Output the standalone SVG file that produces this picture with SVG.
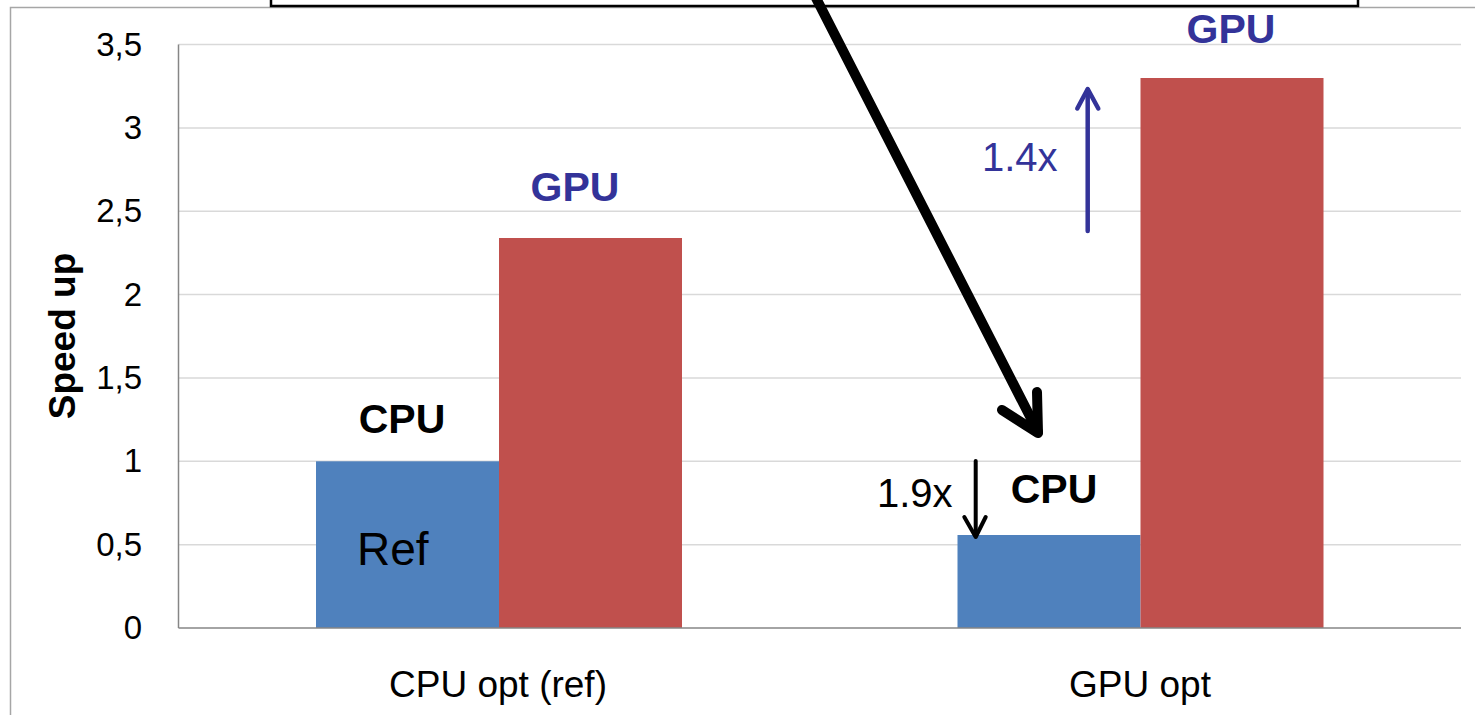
<svg xmlns="http://www.w3.org/2000/svg" width="1475" height="715" viewBox="0 0 1475 715">
<style>
.grid{stroke:#d9d9d9;stroke-width:1.5}
.axis{stroke:#868686;stroke-width:1.5}
.tick{font-family:"Liberation Sans",Arial,sans-serif;font-size:33px;fill:#000;text-anchor:end}
.cat{font-family:"Liberation Sans",Arial,sans-serif;font-size:37px;fill:#000;text-anchor:middle}
.lbl{font-family:"Liberation Sans",Arial,sans-serif;font-weight:bold;font-size:41px;text-anchor:middle}
.ann{font-family:"Liberation Sans",Arial,sans-serif;font-size:40px}
.cpu{fill:#4f81bd}
.gpu{fill:#c0504d}
</style>
<rect width="1475" height="715" fill="#fff"/>
<rect id="frame" x="10.5" y="7.5" width="1500" height="750" fill="none" stroke="#a6a6a6" stroke-width="1.5"/>
<g id="gridlines">
<line class="grid" x1="178.5" y1="44.5" x2="1461" y2="44.5"/>
<line class="grid" x1="178.5" y1="127.9" x2="1461" y2="127.9"/>
<line class="grid" x1="178.5" y1="211.2" x2="1461" y2="211.2"/>
<line class="grid" x1="178.5" y1="294.6" x2="1461" y2="294.6"/>
<line class="grid" x1="178.5" y1="378" x2="1461" y2="378"/>
<line class="grid" x1="178.5" y1="461.3" x2="1461" y2="461.3"/>
<line class="grid" x1="178.5" y1="544.7" x2="1461" y2="544.7"/>
</g>
<g id="ticks">
<text class="tick" x="142" y="55.5">3,5</text>
<text class="tick" x="142" y="138.9">3</text>
<text class="tick" x="142" y="222.2">2,5</text>
<text class="tick" x="142" y="305.6">2</text>
<text class="tick" x="142" y="389">1,5</text>
<text class="tick" x="142" y="472.3">1</text>
<text class="tick" x="142" y="555.7">0,5</text>
<text class="tick" x="142" y="639">0</text>
</g>
<text id="ytitle" transform="translate(75,336) rotate(-90)" font-family="Liberation Sans,Arial,sans-serif" font-weight="bold" font-size="37" text-anchor="middle">Speed up</text>
<g id="bar-cpu-ref"><rect class="cpu" x="316" y="461.3" width="183" height="166.7"/></g>
<g id="bar-gpu-ref"><rect class="gpu" x="499" y="238" width="183" height="390"/></g>
<g id="bar-cpu-opt"><rect class="cpu" x="957.5" y="535" width="183" height="93"/></g>
<g id="bar-gpu-opt"><rect class="gpu" x="1140.5" y="78" width="183" height="550"/></g>
<g id="axes">
<line class="axis" x1="178.5" y1="44.5" x2="178.5" y2="628"/>
<line class="axis" x1="178.5" y1="628" x2="1461" y2="628"/>
</g>
<g id="categories">
<text class="cat" x="498" y="697">CPU opt (ref)</text>
<text class="cat" x="1140" y="697">GPU opt</text>
</g>
<g id="labels">
<text class="lbl" x="402" y="433" fill="#000">CPU</text>
<text class="lbl" x="575" y="201" fill="#333399">GPU</text>
<text class="lbl" x="1054" y="503" fill="#000">CPU</text>
<text class="lbl" x="1231" y="42.5" fill="#333399">GPU</text>
<text id="ref" x="357" y="565" font-family="Liberation Sans,Arial,sans-serif" font-size="46" fill="#000">Ref</text>
<text class="ann" x="982" y="171" fill="#333399">1.4x</text>
<text class="ann" x="877" y="507" fill="#000">1.9x</text>
</g>
<g id="callout-box">
<rect x="271" y="-20" width="1087" height="26" fill="#fff" stroke="#000" stroke-width="2.5"/>
</g>
<g id="connectors" fill="none" stroke-linecap="round" stroke-linejoin="round">
<line x1="816" y1="-2" x2="1038" y2="432" stroke="#000" stroke-width="10"/>
<polyline points="1002,410 1038,433 1037,392" stroke="#000" stroke-width="10"/>
<line x1="1087.7" y1="231" x2="1087.7" y2="90" stroke="#333399" stroke-width="4.5"/>
<polyline points="1077.3,108.5 1087.7,89 1098.3,108.5" stroke="#333399" stroke-width="4.5"/>
<line x1="975.7" y1="461" x2="975.7" y2="536" stroke="#000" stroke-width="4"/>
<polyline points="964.3,517 975.7,537 985.7,517" stroke="#000" stroke-width="4"/>
</g>
</svg>
